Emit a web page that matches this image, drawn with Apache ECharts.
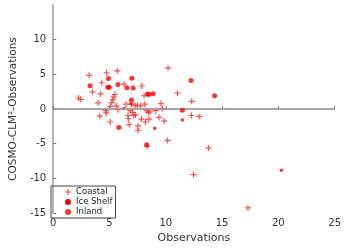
<!DOCTYPE html>
<html>
<head>
<meta charset="utf-8">
<script src="https://cdn.jsdelivr.net/npm/echarts@6/dist/echarts.min.js"></script>
<style>
  html, body { margin: 0; padding: 0; background: #fff; }
  #chart { width: 344px; height: 249px; }
</style>
</head>
<body>
<div id="chart"></div>
<script>
var coastal = [
    [2.24, 1.59], [2.44, 1.4], [3.19, 4.86], [3.48, 2.48], [4.31, 3.79], [4.2, 2.2],
    [3.99, 0.89], [4.14, -1.03], [4.66, -0.23], [4.71, -0.56], [4.74, 5.23], [5.06, -1.87],
    [5.06, 0.37], [5.2, 0.93], [5.29, 1.36], [5.37, 1.73], [5.46, 2.1], [5.6, 0.47],
    [5.69, 5.51], [5.75, -0.09], [6.29, 3.6], [6.47, 0.7], [6.64, -0.93], [6.67, -1.4],
    [6.75, -2.24], [6.84, -0.23], [6.95, 0.7], [7.04, -0.47], [7.15, -0.93], [7.27, 0.47],
    [7.3, -0.84], [7.47, 0.56], [7.53, -2.43], [7.53, -3.08], [7.76, 0.47], [7.84, -1.45],
    [7.87, 3.32], [8.07, 1.92], [8.13, 0.7], [8.19, -1.87], [8.3, -0.23], [8.33, -5.37],
    [8.45, -0.47], [8.51, -1.45], [8.59, -0.42], [9.11, -0.23], [9.4, -1.21], [9.57, 0.79],
    [9.71, 0.09], [9.86, -1.73], [10.14, -4.53], [10.2, 5.89], [11.03, 2.29], [12.3, 1.12],
    [12.27, -0.93], [12.47, -9.44], [12.96, -1.07], [13.79, -5.61], [17.3, -14.25]
];
var iceShelf = [
    [6.29, 0.09], [9.02, -2.76], [11.47, -1.59], [20.26, -8.83], [6.9, 0.75]
];
var inland = [
    [3.28, 3.36], [4.91, 4.39], [4.85, 3.13], [4.98, 3.13], [5.75, 3.55], [5.83, -2.66],
    [6.55, 3.08], [6.98, 4.44], [7.1, 3.04], [6.95, 1.31], [8.39, 2.15], [8.5, 2.15],
    [8.88, 2.2], [8.3, -5.14], [11.47, -0.19], [12.24, 4.11], [14.34, 1.92]
];
var seriesNames = ['Coastal', 'Ice Shelf', 'Inland'];

var plus = 'path://M4,0h2v4h4v2h-4v4h-2v-4h-4v-2h4z';
var font = 'DejaVu Sans';

var chart = echarts.init(document.getElementById('chart'));

var option = {
    animation: false,
    textStyle: {fontFamily: font},
    grid: {left: 45, right: 9, top: 5, bottom: 30},
    legend: {
        orient: 'vertical',
        left: 51,
        top: 186,
        padding: [1, 3, 1, 14],
        itemGap: 0,
        itemWidth: 6,
        itemHeight: 6,
        borderColor: '#444',
        borderWidth: 1,
        borderRadius: 0,
        textStyle: {fontFamily: font, fontSize: 8.5, lineHeight: 10, color: '#222'},
        data: [
            {name: seriesNames[0], icon: plus},
            {name: seriesNames[1], icon: 'circle', itemStyle: {opacity: 1}},
            {name: seriesNames[2], icon: 'circle'}
        ]
    },
    xAxis: {
        type: 'value',
        min: 0, max: 25, interval: 5,
        name: 'Observations',
        nameLocation: 'middle',
        nameGap: 17,
        nameTextStyle: {fontSize: 11, color: '#333'},
        splitLine: {show: false},
        axisLine: {lineStyle: {color: '#999', width: 1.5}},
        axisTick: {inside: true, length: 3, lineStyle: {color: '#777'}},
        axisLabel: {fontSize: 10, color: '#333', margin: 5}
    },
    yAxis: {
        type: 'value',
        min: -15, max: 15, interval: 5,
        name: 'COSMO-CLM²-Observations',
        nameLocation: 'middle',
        nameGap: 32,
        nameTextStyle: {fontSize: 10.5, color: '#333'},
        splitLine: {show: false},
        axisLine: {show: true, lineStyle: {color: '#999', width: 1.5}},
        axisTick: {show: true, inside: true, length: 3, lineStyle: {color: '#777'}},
        axisLabel: {fontSize: 10, color: '#333', margin: 7, showMaxLabel: false}
    },
    series: [
        {
            name: 'Coastal',
            type: 'scatter',
            symbol: plus,
            symbolSize: 6,
            itemStyle: {color: '#ff3030', opacity: 0.85},
            data: coastal,
            z: 3,
            markLine: {
                silent: true,
                symbol: 'none',
                label: {show: false},
                lineStyle: {color: '#a0a0a0', width: 1.5, type: 'solid'},
                data: [[{coord: [0, 0]}, {coord: [25, 0]}]]
            }
        },
        {
            name: 'Ice Shelf',
            type: 'scatter',
            symbol: 'circle',
            symbolSize: 3.5,
            itemStyle: {color: '#ff0000'},
            data: iceShelf,
            z: 4
        },
        {
            name: 'Inland',
            type: 'scatter',
            symbol: 'circle',
            symbolSize: 5,
            itemStyle: {color: '#ff0000'},
            data: inland,
            z: 5
        }
    ]
};

chart.setOption(option);
</script>
</body>
</html>
